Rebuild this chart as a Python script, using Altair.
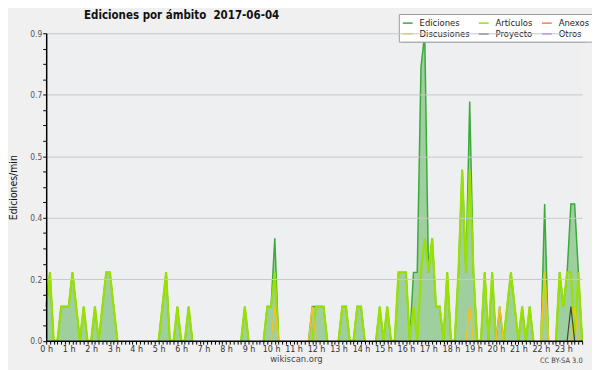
import altair as alt
import pandas as pd

# ---------------- data (edits per minute, 10-minute bins, 2017-06-04) ----------------
# one row per hour, six 10-minute bins per row
ediciones = [
    0.1, 0.2, 0.0, 0.0, 0.1, 0.1,   # 0 h
    0.1, 0.2, 0.1, 0.0, 0.1, 0.0,   # 1 h
    0.0, 0.1, 0.0, 0.1, 0.2, 0.2,   # 2 h
    0.1, 0.0, 0.0, 0.0, 0.0, 0.0,   # 3 h
    0.0, 0.0, 0.0, 0.0, 0.0, 0.0,   # 4 h
    0.0, 0.1, 0.2, 0.0, 0.0, 0.1,   # 5 h
    0.0, 0.0, 0.1, 0.0, 0.0, 0.0,   # 6 h
    0.0, 0.0, 0.0, 0.0, 0.0, 0.0,   # 7 h
    0.0, 0.0, 0.0, 0.0, 0.0, 0.1,   # 8 h
    0.0, 0.0, 0.0, 0.0, 0.0, 0.1,   # 9 h
    0.1, 0.3, 0.0, 0.0, 0.0, 0.0,   # 10 h
    0.0, 0.0, 0.0, 0.0, 0.0, 0.1,   # 11 h
    0.1, 0.1, 0.1, 0.0, 0.0, 0.0,   # 12 h
    0.0, 0.1, 0.1, 0.0, 0.0, 0.1,   # 13 h
    0.1, 0.0, 0.0, 0.0, 0.0, 0.1,   # 14 h
    0.0, 0.1, 0.0, 0.0, 0.2, 0.2,   # 15 h
    0.2, 0.0, 0.2, 0.2, 0.8, 0.9,   # 16 h
    0.2, 0.3, 0.1, 0.1, 0.0, 0.2,   # 17 h
    0.0, 0.0, 0.2, 0.5, 0.2, 0.7,   # 18 h
    0.2, 0.0, 0.0, 0.2, 0.0, 0.2,   # 19 h
    0.0, 0.1, 0.0, 0.1, 0.2, 0.1,   # 20 h
    0.0, 0.1, 0.0, 0.1, 0.0, 0.0,   # 21 h
    0.0, 0.4, 0.0, 0.0, 0.0, 0.2,   # 22 h
    0.1, 0.2, 0.4, 0.4, 0.2, 0.0,   # 23 h
]

articulos = [
    0.1, 0.2, 0.0, 0.0, 0.1, 0.1,   # 0 h
    0.1, 0.2, 0.1, 0.0, 0.1, 0.0,   # 1 h
    0.0, 0.1, 0.0, 0.1, 0.2, 0.2,   # 2 h
    0.1, 0.0, 0.0, 0.0, 0.0, 0.0,   # 3 h
    0.0, 0.0, 0.0, 0.0, 0.0, 0.0,   # 4 h
    0.0, 0.1, 0.2, 0.0, 0.0, 0.1,   # 5 h
    0.0, 0.0, 0.1, 0.0, 0.0, 0.0,   # 6 h
    0.0, 0.0, 0.0, 0.0, 0.0, 0.0,   # 7 h
    0.0, 0.0, 0.0, 0.0, 0.0, 0.1,   # 8 h
    0.0, 0.0, 0.0, 0.0, 0.0, 0.1,   # 9 h
    0.1, 0.2, 0.0, 0.0, 0.0, 0.0,   # 10 h
    0.0, 0.0, 0.0, 0.0, 0.0, 0.0,   # 11 h
    0.1, 0.1, 0.1, 0.0, 0.0, 0.0,   # 12 h
    0.0, 0.1, 0.1, 0.0, 0.0, 0.1,   # 13 h
    0.1, 0.0, 0.0, 0.0, 0.0, 0.1,   # 14 h
    0.0, 0.1, 0.0, 0.0, 0.2, 0.2,   # 15 h
    0.2, 0.0, 0.1, 0.0, 0.2, 0.3,   # 16 h
    0.2, 0.3, 0.1, 0.1, 0.0, 0.2,   # 17 h
    0.0, 0.0, 0.2, 0.5, 0.2, 0.5,   # 18 h
    0.2, 0.0, 0.0, 0.2, 0.0, 0.2,   # 19 h
    0.0, 0.0, 0.0, 0.1, 0.2, 0.1,   # 20 h
    0.0, 0.1, 0.0, 0.1, 0.0, 0.0,   # 21 h
    0.0, 0.2, 0.0, 0.0, 0.0, 0.2,   # 22 h
    0.1, 0.2, 0.2, 0.0, 0.2, 0.0,   # 23 h
]

# sparse series: bin index (10-minute step) -> edits/min
discusiones_bins = [61, 71, 113, 121, 133, 141]
discusiones_vals = [0.1, 0.1, 0.1, 0.1, 0.2, 0.1]
proyecto_bins = [140]
proyecto_vals = [0.1]

# legend order (Vega fills the 3 columns top-to-bottom):
# row 1: Ediciones, Artículos, Anexos / row 2: Discusiones, Proyecto, Otros
series_names = ["Ediciones", "Discusiones", "Artículos", "Proyecto", "Anexos", "Otros"]
series_colors = ["#3aaa3a", "#f2c21f", "#9ae000", "#444444", "#f07f4a", "#9a4ef0"]

y_ticks = [round(i * 0.045, 4) for i in range(21)]
title_text = "Ediciones por ámbito\u00a0 2017-06-04"
credit_text = "CC BY-SA 3.0"

# ---------------- helpers ----------------
N = len(ediciones)
minutes = [10 * i for i in range(N)]


def dense(bins, vals):
    out = [0.0] * N
    for b, v in zip(bins, vals):
        out[b] = v
    return out


def trimmed(vals):
    """keep only the parts of a line that rise from / return to zero (nulls break the path)"""
    out = []
    for i, v in enumerate(vals):
        near = v > 0 or (i > 0 and vals[i - 1] > 0) or (i < N - 1 and vals[i + 1] > 0)
        out.append(v if near else None)
    return out


F = "DejaVu Sans Condensed, DejaVu Sans"

x_enc = alt.X(
    "min:Q",
    scale=alt.Scale(domain=[0, minutes[-1]], nice=False, zero=False),
    axis=alt.Axis(
        values=minutes,
        labelExpr="datum.value % 60 == 0 ? (datum.value / 60) + ' h' : ''",
        labelOverlap=False, labelFlush=False, labelBound=False,
        grid=False, tickSize=3.5, tickColor="black", tickWidth=1,
        domainColor="black", domainWidth=1.5,
        labelFont=F, labelFontSize=9, labelColor="#333333", labelPadding=0.5,
        title="wikiscan.org", titleFont=F, titleFontSize=9.5, titleFontWeight="normal",
        titleColor="#444444", titleX=253, titleY=21.5, titleAlign="center",
        titleBaseline="alphabetic", zindex=1,
    ),
)

major = "round(datum.value * 1000) % 180 == 0"
y_enc = alt.Y(
    "v:Q",
    scale=alt.Scale(domain=[0, 0.9], nice=False, zero=True),
    axis=alt.Axis(
        values=y_ticks,
        labelExpr=major + " ? format(datum.value, '.1f') : ''",
        labelOverlap=False, labelFlush=False,
        grid=True, gridColor="#c8c8c8", gridWidth=1,
        gridOpacity={"condition": {"test": major, "value": 1}, "value": 0},
        tickSize=3.5, tickColor="black", domainColor="black", domainWidth=1.5,
        labelFont=F, labelFontSize=8.5, labelColor="#555555", labelPadding=1,
        title="Ediciones/min", titleFont=F, titleFontSize=10.5, titleFontWeight="normal",
        titleColor="#111111", titleX=-30.3, titleY=156, titleAlign="center",
        titleBaseline="alphabetic", titleAngle=-90, zindex=1,
    ),
)

color_scale = alt.Scale(domain=series_names, range=series_colors)
legend = alt.Legend(
    title=None, orient="none", legendX=357.3, legendY=-19.5, columns=3,
    symbolType="stroke", symbolSize=100, symbolStrokeWidth=1.5,
    labelFont=F, labelFontSize=9.5, labelColor="#222222", labelOffset=6,
    columnPadding=6, rowPadding=0, padding=3,
    fillColor="white", strokeColor="#9a9a9a", cornerRadius=0,
)

df_area = pd.DataFrame({"min": minutes, "v": ediciones})
area = alt.Chart(df_area).mark_area(color="#9fcf9f", opacity=1, interpolate="linear").encode(x=x_enc, y=y_enc)


def line_layer(name, vals, width):
    df = pd.DataFrame({"min": minutes, "v": trimmed(vals), "serie": [name] * N})
    return alt.Chart(df).mark_line(strokeWidth=width, interpolate="linear").encode(
        x=x_enc, y=y_enc,
        color=alt.Color("serie:N", scale=color_scale, legend=legend),
    )


l_total = line_layer("Ediciones", ediciones, 1.5)
l_art = line_layer("Artículos", articulos, 2.2)
l_disc = line_layer("Discusiones", dense(discusiones_bins, discusiones_vals), 1.5)
l_proj = line_layer("Proyecto", dense(proyecto_bins, proyecto_vals), 1.2)

shadow = alt.Chart(pd.DataFrame({"a": [0]})).mark_rect(color="#8c8c8c").encode(
    x=alt.value(360.3), x2=alt.value(546.8), y=alt.value(-16.5), y2=alt.value(9.5)
)

cc = alt.Chart(pd.DataFrame({"t": [credit_text]})).mark_text(
    align="right", baseline="alphabetic", font=F, fontSize=7.5, color="#444444"
).encode(x=alt.value(543.5), y=alt.value(334), text="t:N")

ttl = alt.Chart(pd.DataFrame({"t": [title_text]})).mark_text(
    align="left", baseline="alphabetic", font=F, fontSize=11.6, fontWeight="bold", color="#111111"
).encode(x=alt.value(38.3), y=alt.value(-14.5), text="t:N")

chart = alt.layer(area, l_total, l_art, l_disc, l_proj, shadow, cc, ttl).properties(
    width=543,
    height=311.5,
    padding={"left": 38.7, "top": 23.2, "right": 10, "bottom": 27},
    autosize=alt.AutoSizeParams(type="none"),
    background="#f0f0f0",
).configure_view(stroke=None, fill="#eeeff1")

chart.save("out.html", embed_options={"renderer": "svg", "actions": False})
